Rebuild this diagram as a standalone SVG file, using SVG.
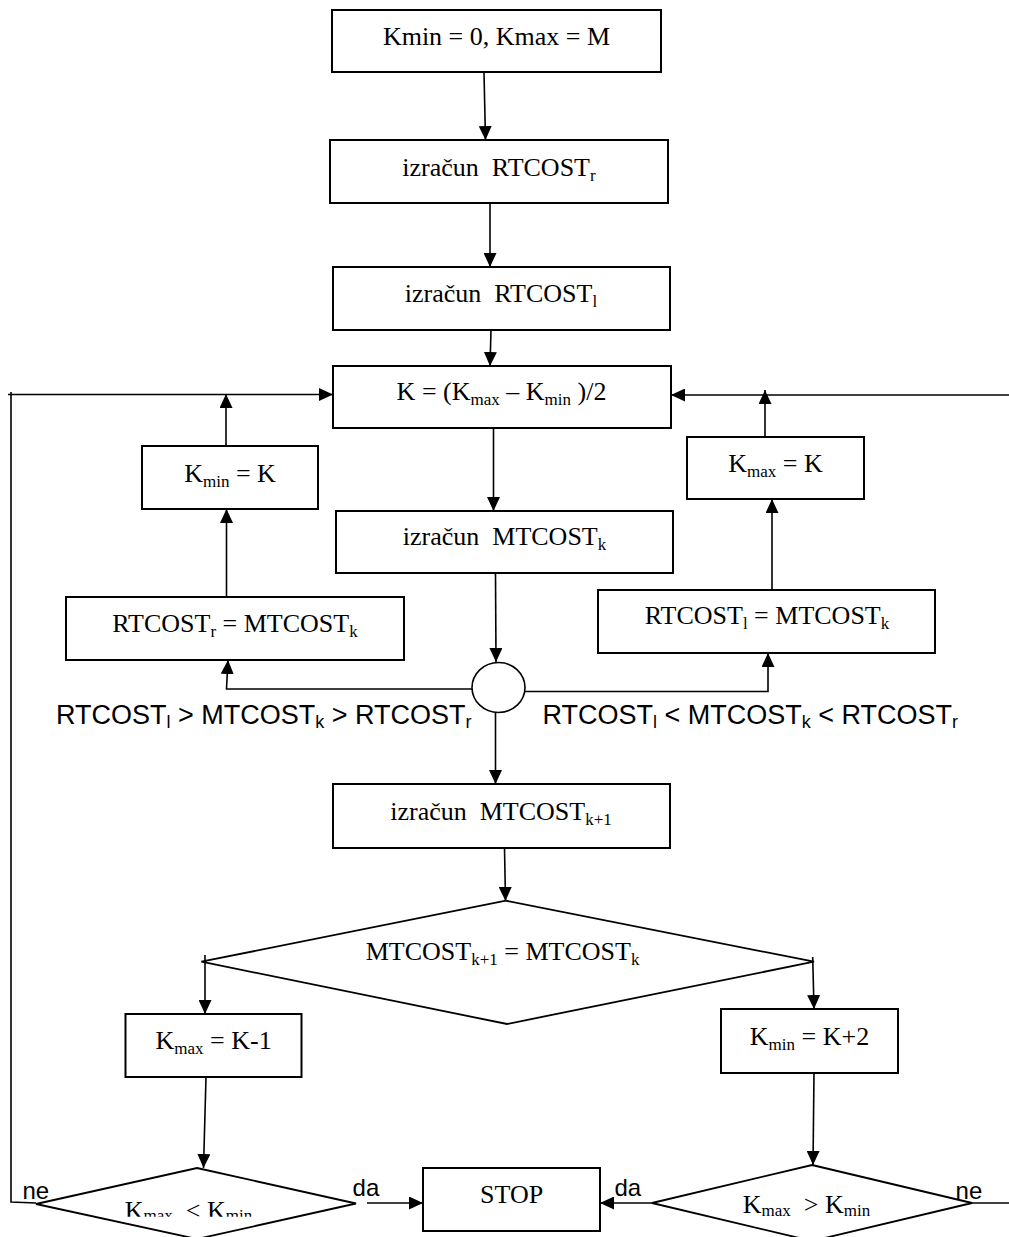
<svg xmlns="http://www.w3.org/2000/svg" width="1009" height="1237" viewBox="0 0 1009 1237">
<style>
.box{fill:#fff;stroke:#000;stroke-width:2}
.ln{fill:none;stroke:#000;stroke-width:1.6}
.arr{marker-end:url(#ah)}
.t{font-family:"Liberation Serif","Times New Roman",serif;font-size:26px;fill:#000;text-anchor:middle}
.s{font-size:17px}
.lab{font-family:"Liberation Sans",Arial,sans-serif;font-size:27px;fill:#000}
.ls{font-size:18px}
.yn{font-family:"Liberation Sans",Arial,sans-serif;font-size:24px;fill:#000}
</style>
<defs>
<marker id="ah" markerUnits="userSpaceOnUse" markerWidth="14" markerHeight="13" refX="14" refY="6.5" orient="auto">
<path d="M0,0 L14,6.5 L0,13 Z" fill="#000"/>
</marker>
<clipPath id="clipL"><rect x="100" y="1180" width="180" height="36.7"/></clipPath>
</defs>
<rect width="1009" height="1237" fill="#fff"/>
<g id="connectors">
<line class="ln arr" x1="484" y1="73" x2="485.5" y2="140"/>
<line class="ln arr" x1="490" y1="203" x2="490" y2="267"/>
<line class="ln arr" x1="491" y1="330" x2="490" y2="366"/>
<polyline class="ln" points="11,392 11,1202 36,1203"/>
<line class="ln arr" x1="8" y1="394.5" x2="333" y2="394.5"/>
<line class="ln arr" x1="1009" y1="395" x2="671" y2="395"/>
<line class="ln" x1="972" y1="1203" x2="1009" y2="1203"/>
<line class="ln arr" x1="226" y1="446" x2="226" y2="394"/>
<line class="ln arr" x1="765" y1="437" x2="765" y2="390"/>
<line class="ln arr" x1="493.5" y1="428" x2="493.5" y2="511"/>
<line class="ln arr" x1="495.5" y1="573" x2="496" y2="662"/>
<polyline class="ln arr" points="472,689 226.5,689 228,660"/>
<line class="ln arr" x1="226.5" y1="597" x2="226.5" y2="509"/>
<polyline class="ln arr" points="525,691.5 768,691.5 768,653"/>
<line class="ln arr" x1="772" y1="590" x2="772" y2="499"/>
<line class="ln arr" x1="495.5" y1="712" x2="495.5" y2="784"/>
<line class="ln arr" x1="504.5" y1="848" x2="505.5" y2="901"/>
<line class="ln arr" x1="205" y1="955" x2="205" y2="1014"/>
<line class="ln arr" x1="812.7" y1="957" x2="814" y2="1009"/>
<line class="ln arr" x1="206" y1="1077" x2="203.5" y2="1168"/>
<line class="ln arr" x1="814" y1="1073" x2="813" y2="1165"/>
<line class="ln arr" x1="367" y1="1203" x2="423" y2="1203"/>
<line class="ln arr" x1="652" y1="1203" x2="600" y2="1203"/>
</g>
<g id="n1"><rect class="box" x="332" y="10" width="329" height="62"/><text class="t" x="496.5" y="45">Kmin = 0, Kmax = M</text></g>
<g id="n2"><rect class="box" x="330" y="140" width="338" height="63"/><text class="t" x="499" y="176">izračun&#160; RTCOST<tspan class="s" dy="5">r</tspan></text></g>
<g id="n3"><rect class="box" x="333" y="267" width="337" height="63"/><text class="t" x="501" y="302">izračun&#160; RTCOST<tspan class="s" dy="5">l</tspan></text></g>
<g id="n4"><rect class="box" x="333" y="366" width="338" height="62"/><text class="t" x="501.5" y="400">K = (K<tspan class="s" dy="5">max</tspan><tspan dy="-5"> – K</tspan><tspan class="s" dy="5">min</tspan><tspan dy="-5"> )/2</tspan></text></g>
<g id="n5"><rect class="box" x="142" y="446" width="176" height="63"/><text class="t" x="230" y="482">K<tspan class="s" dy="5">min</tspan><tspan dy="-5"> = K</tspan></text></g>
<g id="n6"><rect class="box" x="687" y="437" width="177" height="62"/><text class="t" x="775.5" y="472">K<tspan class="s" dy="5">max</tspan><tspan dy="-5"> = K</tspan></text></g>
<g id="n7"><rect class="box" x="336" y="511" width="337" height="62"/><text class="t" x="504.5" y="545">izračun&#160; MTCOST<tspan class="s" dy="5">k</tspan></text></g>
<g id="n8"><rect class="box" x="66" y="597" width="338" height="63"/><text class="t" x="235" y="632">RTCOST<tspan class="s" dy="5">r</tspan><tspan dy="-5"> = MTCOST</tspan><tspan class="s" dy="5">k</tspan></text></g>
<g id="n9"><rect class="box" x="598" y="590" width="337" height="63"/><text class="t" x="767" y="624">RTCOST<tspan class="s" dy="5">l</tspan><tspan dy="-5"> = MTCOST</tspan><tspan class="s" dy="5">k</tspan></text></g>
<g id="junction"><ellipse class="box" cx="498.5" cy="687.5" rx="26.5" ry="25" style="stroke-width:1.6"/></g>
<g id="labels">
<text class="lab" x="56" y="724">RTCOST<tspan class="ls" dy="4">l</tspan><tspan dy="-4"> &gt; MTCOST</tspan><tspan class="ls" dy="4">k</tspan><tspan dy="-4"> &gt; RTCOST</tspan><tspan class="ls" dy="4">r</tspan></text>
<text class="lab" x="542.5" y="724">RTCOST<tspan class="ls" dy="4">l</tspan><tspan dy="-4"> &lt; MTCOST</tspan><tspan class="ls" dy="4">k</tspan><tspan dy="-4"> &lt; RTCOST</tspan><tspan class="ls" dy="4">r</tspan></text>
<text class="yn" x="22.5" y="1199">ne</text>
<text class="yn" x="352.6" y="1196">da</text>
<text class="yn" x="614.5" y="1196">da</text>
<text class="yn" x="955.6" y="1199">ne</text>
</g>
<g id="n10"><rect class="box" x="333" y="784" width="337" height="64"/><text class="t" x="501" y="820">izračun&#160; MTCOST<tspan class="s" dy="5">k+1</tspan></text></g>
<g id="d1"><polygon class="box" points="505.8,900.7 814,961.7 507,1024 201.4,961.7" style="stroke-width:1.8"/><text class="t" x="502.6" y="960">MTCOST<tspan class="s" dy="5">k+1</tspan><tspan dy="-5"> = MTCOST</tspan><tspan class="s" dy="5">k</tspan></text></g>
<g id="n11"><rect class="box" x="125.5" y="1014" width="176" height="63"/><text class="t" x="213.6" y="1049">K<tspan class="s" dy="5">max</tspan><tspan dy="-5"> = K-1</tspan></text></g>
<g id="n12"><rect class="box" x="721" y="1009" width="177" height="64"/><text class="t" x="809.5" y="1045">K<tspan class="s" dy="5">min</tspan><tspan dy="-5"> = K+2</tspan></text></g>
<g id="d2"><polygon class="box" points="197,1168 356,1203.5 197,1239 36,1204" style="stroke-width:1.8"/><text class="t" x="188.5" y="1219" clip-path="url(#clipL)">K<tspan class="s" dy="1.5">max</tspan><tspan dy="-1.5">&#160; &lt; K</tspan><tspan class="s" dy="1.5">min</tspan></text></g>
<g id="stop"><rect class="box" x="423" y="1168" width="177" height="63"/><text class="t" x="511.6" y="1203">STOP</text></g>
<g id="d3"><polygon class="box" points="812,1165 972,1203 812,1241 652,1203" style="stroke-width:1.8"/><text class="t" x="806.5" y="1213">K<tspan class="s" dy="2.5">max</tspan><tspan dy="-2.5">&#160; &gt; K</tspan><tspan class="s" dy="2.5">min</tspan></text></g>
</svg>
